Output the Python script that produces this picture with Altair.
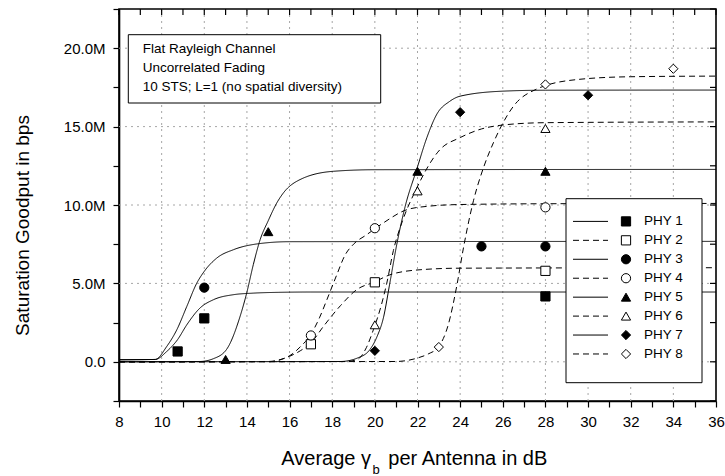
import altair as alt
import pandas as pd

FONT = "Liberation Sans"

names = ["PHY 1", "PHY 2", "PHY 3", "PHY 4", "PHY 5", "PHY 6", "PHY 7", "PHY 8"]
dashes = ["solid", "dashed", "solid", "dashed", "solid", "dashed", "solid", "dashed"]
shapes = ["square", "square", "circle", "circle", "triangle-up", "triangle-up", "diamond", "diamond"]
fills = ["black", "white", "black", "white", "black", "white", "black", "white"]

# fitted curves (x in dB, y in Mbps)
phy1_cx = [8, 9.7, 10.24, 10.74, 11.18, 11.8, 12.43, 13.37, 14.31, 15.5, 17, 36]
phy1_cy = [0.13, 0.15, 0.66, 1.40, 2.36, 3.43, 3.96, 4.28, 4.38, 4.43, 4.45, 4.45]
phy2_cx = [8, 15.0, 15.6, 16.0, 16.5, 17.0, 17.59, 18.4, 19.15, 20.0, 20.71, 22.12, 24, 36]
phy2_cy = [0, 0.02, 0.15, 0.35, 0.7, 1.2, 2.26, 3.6, 4.6, 5.1, 5.55, 5.87, 5.97, 6.0]
phy3_cx = [8, 9.7, 10.24, 10.71, 11.18, 11.65, 12.0, 12.59, 13.37, 14.6, 16, 36]
phy3_cy = [0.13, 0.15, 0.98, 2.04, 3.53, 5.02, 5.77, 6.62, 7.15, 7.54, 7.66, 7.68]
phy4_cx = [8, 15.2, 15.6, 16.02, 16.5, 17.0, 17.4, 17.75, 18.2, 18.6, 19.0, 19.62, 20.4, 21.5, 22.5, 24, 28, 36]
phy4_cy = [0, 0.02, 0.15, 0.4, 0.95, 1.75, 2.8, 3.96, 5.5, 6.8, 7.5, 8.11, 8.86, 9.7, 9.92, 10.03, 10.08, 10.1]
phy5_cx = [8, 11.8, 12.43, 13.05, 13.68, 13.99, 14.3, 14.62, 15.0, 15.4, 15.71, 16.49, 18.06, 20, 36]
phy5_cy = [0, 0.02, 0.2, 0.8, 2.9, 4.39, 6.2, 7.79, 9.0, 10.13, 10.77, 11.62, 12.15, 12.25, 12.27]
phy6_cx = [8, 18.6, 19.15, 19.6, 19.93, 20.3, 20.56, 20.87, 21.3, 21.9, 23.06, 24, 25, 26, 28, 36]
phy6_cy = [0, 0.02, 0.13, 0.9, 2.04, 3.6, 5.02, 7.1, 9.0, 10.9, 13.54, 14.3, 14.85, 15.1, 15.25, 15.3]
phy7_cx = [8, 18.4, 19.2, 19.78, 20.1, 20.4, 20.7, 21.03, 21.42, 21.97, 22.44, 22.91, 23.5, 24, 26, 28, 36]
phy7_cy = [0, 0.02, 0.25, 0.8, 1.6, 2.8, 5.0, 7.5, 9.9, 12.3, 14.3, 15.8, 16.6, 16.94, 17.26, 17.32, 17.33]
phy8_cx = [8, 21.0, 21.97, 22.5, 22.98, 23.45, 23.85, 24.16, 24.63, 25.1, 25.57, 26.5, 27.6, 29.48, 32, 36]
phy8_cy = [0, 0.02, 0.23, 0.5, 0.94, 2.4, 4.9, 7.3, 10.3, 12.4, 14.0, 16.3, 17.4, 18.0, 18.18, 18.22]

# measured points
phy1_mx = [10.75, 12, 28]
phy1_my = [0.66, 2.77, 4.17]
phy2_mx = [17, 20, 28]
phy2_my = [1.12, 5.07, 5.8]
phy3_mx = [12, 25, 28]
phy3_my = [4.73, 7.36, 7.36]
phy4_mx = [17, 20, 28]
phy4_my = [1.68, 8.52, 9.85]
phy5_mx = [13, 15, 22, 28]
phy5_my = [0.15, 8.3, 12.15, 12.15]
phy6_mx = [20, 22, 28]
phy6_my = [2.36, 10.9, 14.88]
phy7_mx = [20, 24, 30]
phy7_my = [0.7, 15.92, 17.0]
phy8_mx = [23, 28, 34]
phy8_my = [0.94, 17.69, 18.69]

box_lines = ["Flat Rayleigh Channel", "Uncorrelated Fading", "10 STS; L=1 (no spatial diversity)"]

x_ticks = list(range(8, 37))
x_grid = [10, 12, 14, 16, 18, 20, 22, 24, 26, 28, 30, 32, 34]
y_ticks = [-2.5, 0, 2.5, 5, 7.5, 10, 12.5, 15, 17.5, 20, 22.5]
y_grid = [0, 5, 10, 15, 20]

curves = [(phy1_cx, phy1_cy), (phy2_cx, phy2_cy), (phy3_cx, phy3_cy), (phy4_cx, phy4_cy),
          (phy5_cx, phy5_cy), (phy6_cx, phy6_cy), (phy7_cx, phy7_cy), (phy8_cx, phy8_cy)]
marks = [(phy1_mx, phy1_my), (phy2_mx, phy2_my), (phy3_mx, phy3_my), (phy4_mx, phy4_my),
         (phy5_mx, phy5_my), (phy6_mx, phy6_my), (phy7_mx, phy7_my), (phy8_mx, phy8_my)]

crow = []
for i, (cx, cy) in enumerate(curves):
    for xv, yv in zip(cx, cy):
        crow.append({"name": names[i], "dash": dashes[i], "x": xv, "y": yv})
df_c = pd.DataFrame(crow)

prow = []
for i, (mx, my) in enumerate(marks):
    for xv, yv in zip(mx, my):
        prow.append({"name": names[i], "fillc": fills[i], "x": xv, "y": yv})
df_p = pd.DataFrame(prow)

df_leg = pd.DataFrame({"name": names, "dash": dashes, "fillc": fills, "idx": list(range(len(names)))})
df_box = pd.DataFrame({"line": box_lines, "idx": list(range(len(box_lines)))})

W, H = 597, 392

xs = alt.Scale(domain=[8, 36], nice=False, zero=False)
ys = alt.Scale(domain=[-2.5, 22.5], nice=False, zero=False)
dash_scale = alt.Scale(domain=["solid", "dashed"], range=[[1, 0], [6, 4]])
shape_scale = alt.Scale(domain=names, range=shapes)

ylab_expr = ("datum.value === 0 ? '0.0' : datum.value === 5 ? '5.0M' : datum.value === 10 ? '10.0M' : "
             "datum.value === 15 ? '15.0M' : datum.value === 20 ? '20.0M' : ''")

x_axis = alt.Axis(values=x_ticks, labelExpr="datum.value % 2 === 0 ? '' + datum.value : ''",
                  grid=False, tickSize=6, labelPadding=7, labelFlush=False, labelOverlap=False,
                  title=None)
y_axis = alt.Axis(values=y_ticks, labelExpr=ylab_expr,
                  grid=False, tickSize=6, labelPadding=8, labelOverlap=False, labelFlush=False,
                  title="Saturation Goodput in bps", titleX=-91, titleY=216, titleAngle=-90,
                  titleAlign="center", titleBaseline="alphabetic", titleFontSize=19,
                  titleFontWeight="normal", titleFont=FONT, titleColor="black")

gx = alt.Chart(pd.DataFrame({"gx": x_grid})).mark_rule(color="#a6a6a6", strokeDash=[2, 4], strokeWidth=1).encode(
    x=alt.X("gx:Q", scale=xs, axis=x_axis), y=alt.value(0), y2=alt.value(H))
gy = alt.Chart(pd.DataFrame({"gy": y_grid})).mark_rule(color="#a6a6a6", strokeDash=[2, 4], strokeWidth=1).encode(
    y=alt.Y("gy:Q", scale=ys, axis=y_axis), x=alt.value(0), x2=alt.value(W))

lines = alt.Chart(df_c).mark_line(color="black", strokeWidth=1, interpolate="monotone").encode(
    x=alt.X("x:Q", scale=xs, axis=x_axis),
    y=alt.Y("y:Q", scale=ys, axis=y_axis),
    detail="name:N",
    strokeDash=alt.StrokeDash("dash:N", scale=dash_scale, legend=None),
)

points = alt.Chart(df_p).mark_point(filled=True, stroke="black", strokeWidth=1, opacity=1, size=85).encode(
    x=alt.X("x:Q", scale=xs, axis=x_axis),
    y=alt.Y("y:Q", scale=ys, axis=y_axis),
    shape=alt.Shape("name:N", scale=shape_scale, legend=None),
    fill=alt.Fill("fillc:N", scale=None),
)

one = pd.DataFrame({"a": [0]})
ann_box = alt.Chart(one).mark_rect(fill="white", stroke="black", strokeWidth=1).encode(
    x=alt.value(9.3), x2=alt.value(261.7), y=alt.value(25.7), y2=alt.value(94))
ann_text = alt.Chart(df_box).transform_calculate(ty="40 + datum.idx * 19.2").mark_text(
    align="left", baseline="middle", font=FONT, fontSize=13.5, color="black").encode(
    x=alt.value(23.7), y=alt.Y("ty:Q", scale=None), text="line:N")

leg_box = alt.Chart(one).mark_rect(fill="white", stroke="black", strokeWidth=1).encode(
    x=alt.value(447), x2=alt.value(583), y=alt.value(189.7), y2=alt.value(373.7))
leg_base = alt.Chart(df_leg).transform_calculate(ly="212.4 + datum.idx * 18.94")
leg_lines = leg_base.mark_rule(color="black", strokeWidth=1).encode(
    x=alt.value(454), x2=alt.value(489), y=alt.Y("ly:Q", scale=None),
    strokeDash=alt.StrokeDash("dash:N", scale=dash_scale, legend=None))
leg_pts = leg_base.mark_point(filled=True, stroke="black", strokeWidth=1, opacity=1, size=85).encode(
    x=alt.value(507), y=alt.Y("ly:Q", scale=None),
    shape=alt.Shape("name:N", scale=shape_scale, legend=None),
    fill=alt.Fill("fillc:N", scale=None))
leg_text = leg_base.mark_text(align="left", baseline="middle", font=FONT, fontSize=13.5, color="black").encode(
    x=alt.value(525), y=alt.Y("ly:Q", scale=None), text="name:N")

top_ticks = alt.Chart(pd.DataFrame({"tx": x_ticks})).mark_rule(color="black", strokeWidth=1.2).encode(
    x=alt.X("tx:Q", scale=xs, axis=x_axis), y=alt.value(0), y2=alt.value(6))
right_ticks = alt.Chart(pd.DataFrame({"ty": y_ticks})).mark_rule(color="black", strokeWidth=1.2).encode(
    y=alt.Y("ty:Q", scale=ys, axis=y_axis), x=alt.value(W), x2=alt.value(W - 6))

tstyle = dict(font=FONT, color="black", baseline="alphabetic", align="left")
xt1 = alt.Chart(one).mark_text(fontSize=20, **{**tstyle, "align": "right"}, text="Average γ").encode(
    x=alt.value(252), y=alt.value(456))
xt2 = alt.Chart(one).mark_text(fontSize=13, **tstyle, text="b").encode(
    x=alt.value(253.5), y=alt.value(465))
xt3 = alt.Chart(one).mark_text(fontSize=20, **tstyle, text="per Antenna in dB").encode(
    x=alt.value(269.3), y=alt.value(456))

chart = alt.layer(
    gx, gy, lines, points, ann_box, ann_text, leg_box, leg_lines, leg_pts, leg_text,
    top_ticks, right_ticks, xt1, xt2, xt3
).properties(
    width=W, height=H,
    autosize=alt.AutoSizeParams(type="none"),
    padding={"left": 119, "top": 9, "right": 9, "bottom": 75},
).configure_view(
    stroke="black", strokeWidth=1.6
).configure_axis(
    domainColor="black", domainWidth=1.6, tickColor="black", tickWidth=1.2,
    labelFont=FONT, labelFontSize=15, labelColor="black",
)

chart.save("out.html", embed_options={"renderer": "svg", "actions": False})
